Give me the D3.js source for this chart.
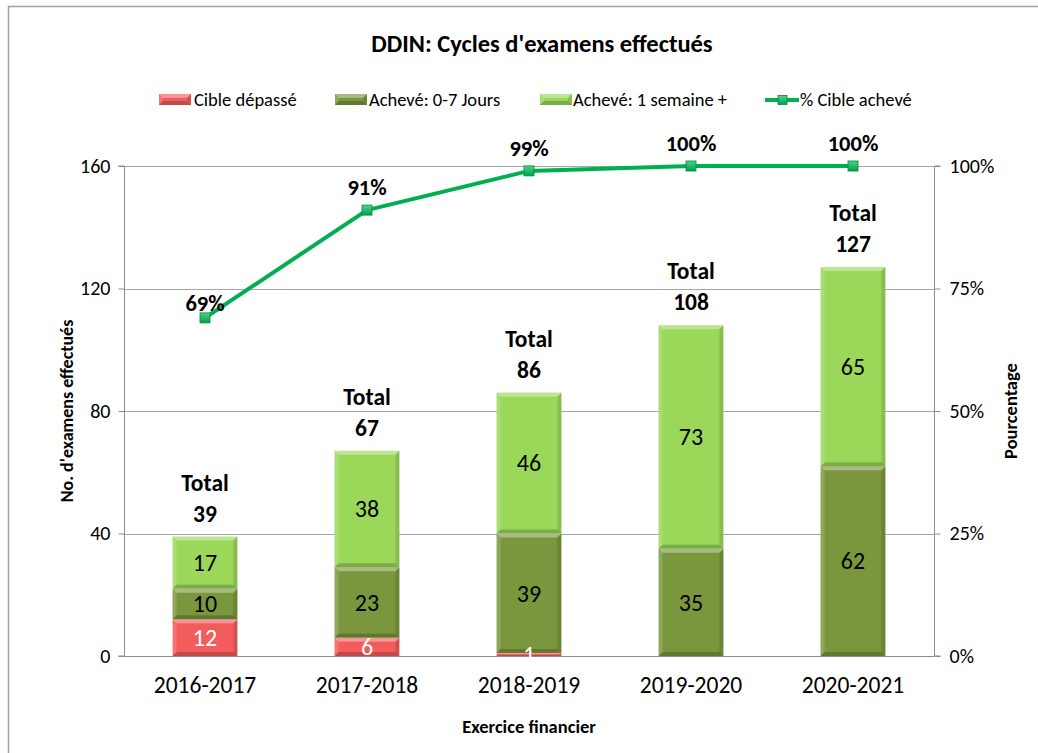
<!DOCTYPE html>
<html>
<head>
<meta charset="utf-8">
<script src="https://cdn.jsdelivr.net/npm/d3@7"></script>
<style>
  html, body { margin: 0; padding: 0; background: #fff; }
  svg { display: block; font-family: Carlito, Lato, "Open Sans", sans-serif; }
</style>
</head>
<body>
<svg id="chart" width="1038" height="753"></svg>
<script>
// Fiscal years and counts of completed exam cycles
const categories = ["2016-2017", "2017-2018", "2018-2019", "2019-2020", "2020-2021"];
const cibleDepasse = [12, 6, 1, 0, 0];
const acheve07 = [10, 23, 39, 35, 62];
const acheve1sem = [17, 38, 46, 73, 65];
const totals = [39, 67, 86, 108, 127];
const pctAcheve = [69, 91, 99, 100, 100];
const leftTicks = [0, 40, 80, 120, 160];
const rightTicks = [0, 25, 50, 75, 100];

const seriesKeys = ["cible", "j07", "sem"];
const seriesNames = {
  cible: "Cible dépassé",
  j07: "Achevé: 0-7 Jours",
  sem: "Achevé: 1 semaine +"
};
const seriesColors = { cible: "#f25c5c", j07: "#7a973e", sem: "#9bd85a" };
const labelColors = { cible: "#ffffff", j07: "#000000", sem: "#000000" };
const lineColor = "#00b050";

const rows = categories.map((c, i) => ({
  cat: c, cible: cibleDepasse[i], j07: acheve07[i], sem: acheve1sem[i],
  total: totals[i], pct: pctAcheve[i]
}));

const svg = d3.select("#chart");
const plot = { left: 124, right: 934, top: 166, bottom: 656 };

// Outer chart frame
svg.append("rect")
  .attr("x", 8.5).attr("y", 6.5).attr("width", 1040).attr("height", 760)
  .attr("fill", "none").attr("stroke", "#a0a0a0").attr("stroke-width", 1.5);

const x = d3.scaleBand().domain(categories).range([plot.left, plot.right]).paddingInner(0.6).paddingOuter(0.3);
const y = d3.scaleLinear().domain([0, 160]).range([plot.bottom, plot.top]);
const yPct = d3.scaleLinear().domain([0, 100]).range([plot.bottom, plot.top]);

// Title
svg.append("text")
  .attr("x", 542).attr("y", 52).attr("text-anchor", "middle")
  .attr("font-size", 24.5).attr("font-weight", "bold").attr("fill", "#000")
  .text("DDIN: Cycles d'examens effectués");

// Gridlines
svg.append("g").selectAll("line").data(leftTicks.slice(1)).join("line")
  .attr("x1", plot.left).attr("x2", plot.right)
  .attr("y1", d => Math.round(y(d)) + 0.5).attr("y2", d => Math.round(y(d)) + 0.5)
  .attr("stroke", "#a6a6a6").attr("stroke-width", 1);

// Left axis
const leftAxis = svg.append("g")
  .attr("transform", `translate(${plot.left + 0.5},0)`)
  .call(d3.axisLeft(y).tickValues(leftTicks).tickSize(6).tickPadding(8));
// Right axis
const rightAxis = svg.append("g")
  .attr("transform", `translate(${plot.right + 0.5},0)`)
  .call(d3.axisRight(yPct).tickValues(rightTicks).tickSize(6).tickPadding(9).tickFormat(d => d + "%"));
[leftAxis, rightAxis].forEach(g => {
  g.select(".domain").attr("stroke", "#8c8c8c");
  g.selectAll(".tick line").attr("stroke", "#8c8c8c");
  g.selectAll(".tick text").attr("font-size", 20).attr("fill", "#000")
    .attr("font-family", "Carlito, Lato, sans-serif");
});
leftAxis.select(".domain").attr("d", `M-6,${plot.top}H0V${plot.bottom}H-6`);
rightAxis.select(".domain").attr("d", `M6,${plot.top}H0V${plot.bottom}H6`);

// Category axis
const xAxis = svg.append("g")
  .attr("transform", `translate(0,${plot.bottom + 0.5})`)
  .call(d3.axisBottom(x).tickSize(0).tickPadding(20));
xAxis.select(".domain").attr("stroke", "#8c8c8c").attr("d", `M${plot.left},0H${plot.right}`);
xAxis.selectAll(".tick text").attr("font-size", 23.5).attr("fill", "#000")
  .attr("font-family", "Carlito, Lato, sans-serif");

// Axis titles
svg.append("text")
  .attr("transform", `translate(73,${(plot.top + plot.bottom) / 2}) rotate(-90)`)
  .attr("text-anchor", "middle").attr("font-size", 18).attr("font-weight", "bold")
  .text("No. d'examens effectués");
svg.append("text")
  .attr("transform", `translate(1017,${(plot.top + plot.bottom) / 2}) rotate(-90)`)
  .attr("text-anchor", "middle").attr("font-size", 18.5).attr("font-weight", "bold")
  .text("Pourcentage");
svg.append("text")
  .attr("x", (plot.left + plot.right) / 2).attr("y", 733)
  .attr("text-anchor", "middle").attr("font-size", 18.5).attr("font-weight", "bold")
  .text("Exercice financier");

// Bevelled rectangle helper
function bevel(g, x0, y0, w, h, color) {
  const b = Math.min(4, h / 2, w / 2);
  g.append("rect").attr("x", x0).attr("y", y0).attr("width", w).attr("height", h).attr("fill", color);
  const x1 = x0 + w, y1 = y0 + h;
  const faces = [
    { p: [[x0, y0], [x1, y0], [x1 - b, y0 + b], [x0 + b, y0 + b]], c: "#ffffff", o: 0.35 },
    { p: [[x0, y0], [x0 + b, y0 + b], [x0 + b, y1 - b], [x0, y1]], c: "#ffffff", o: 0.15 },
    { p: [[x1, y0], [x1, y1], [x1 - b, y1 - b], [x1 - b, y0 + b]], c: "#000000", o: 0.12 },
    { p: [[x0, y1], [x0 + b, y1 - b], [x1 - b, y1 - b], [x1, y1]], c: "#000000", o: 0.2 }
  ];
  faces.forEach(f => g.append("polygon")
    .attr("points", f.p.map(q => q.join(",")).join(" "))
    .attr("fill", f.c).attr("fill-opacity", f.o));
}

// Stacked bars
const stacked = d3.stack().keys(seriesKeys)(rows);
const barG = svg.append("g");
stacked.forEach(layer => {
  layer.forEach((seg, i) => {
    const v = seg[1] - seg[0];
    if (v <= 0) return;
    const g = barG.append("g");
    bevel(g, x(categories[i]), y(seg[1]), x.bandwidth(), y(seg[0]) - y(seg[1]), seriesColors[layer.key]);
  });
});
// Segment value labels
stacked.forEach(layer => {
  layer.forEach((seg, i) => {
    const v = seg[1] - seg[0];
    if (v <= 0) return;
    barG.append("text")
      .attr("x", x(categories[i]) + x.bandwidth() / 2)
      .attr("y", (y(seg[0]) + y(seg[1])) / 2)
      .attr("dy", "0.35em").attr("text-anchor", "middle")
      .attr("font-size", 24).attr("fill", labelColors[layer.key])
      .text(v);
  });
});

// Total labels above each bar
const totG = svg.append("g");
rows.forEach(r => {
  const cx = x(r.cat) + x.bandwidth() / 2;
  const top = y(r.total);
  const t = totG.append("text").attr("text-anchor", "middle")
    .attr("font-size", 23.5).attr("font-weight", "bold").attr("fill", "#000");
  t.append("tspan").attr("x", cx).attr("y", top - 46).text("Total");
  t.append("tspan").attr("x", cx).attr("y", top - 15).text(r.total);
});

// Percentage line
const cxOf = c => x(c) + x.bandwidth() / 2;
svg.append("path")
  .datum(rows)
  .attr("fill", "none").attr("stroke", lineColor).attr("stroke-width", 4)
  .attr("stroke-linejoin", "round")
  .attr("d", d3.line().x(d => cxOf(d.cat)).y(d => yPct(d.pct)));

const defs = svg.append("defs");
const mg = defs.append("linearGradient").attr("id", "markerGrad").attr("x1", 0).attr("y1", 0).attr("x2", 0).attr("y2", 1);
mg.append("stop").attr("offset", "0%").attr("stop-color", "#4fd38a");
mg.append("stop").attr("offset", "100%").attr("stop-color", "#00a04a");

svg.append("g").selectAll("rect").data(rows).join("rect")
  .attr("x", d => cxOf(d.cat) - 5).attr("y", d => yPct(d.pct) - 5)
  .attr("width", 10).attr("height", 10)
  .attr("fill", "url(#markerGrad)").attr("stroke", "#00873e").attr("stroke-width", 0.8);

svg.append("g").selectAll("text").data(rows).join("text")
  .attr("x", d => cxOf(d.cat))
  .attr("y", d => yPct(d.pct) - (d.pct < 75 ? 15 : 23))
  .attr("dy", "0.35em")
  .attr("text-anchor", "middle").attr("font-size", 22.5).attr("font-weight", "bold")
  .text(d => d.pct + "%");

// Legend
const legendItems = [
  { key: "cible", x: 159, tx: 194 },
  { key: "j07", x: 335, tx: 369 },
  { key: "sem", x: 540, tx: 573 }
];
const lg = svg.append("g");
legendItems.forEach(it => {
  const g = lg.append("g");
  bevel(g, it.x, 94, 32, 11, seriesColors[it.key]);
  lg.append("text").attr("x", it.tx).attr("y", 100).attr("dy", "0.35em")
    .attr("font-size", 18.5).text(seriesNames[it.key]);
});
lg.append("line").attr("x1", 765).attr("x2", 799).attr("y1", 100).attr("y2", 100)
  .attr("stroke", lineColor).attr("stroke-width", 4);
lg.append("rect").attr("x", 778).attr("y", 95.5).attr("width", 9).attr("height", 9)
  .attr("fill", "url(#markerGrad)").attr("stroke", "#00873e").attr("stroke-width", 0.8);
lg.append("text").attr("x", 800).attr("y", 100).attr("dy", "0.35em")
  .attr("font-size", 18.5).text("% Cible achevé");
</script>
</body>
</html>
